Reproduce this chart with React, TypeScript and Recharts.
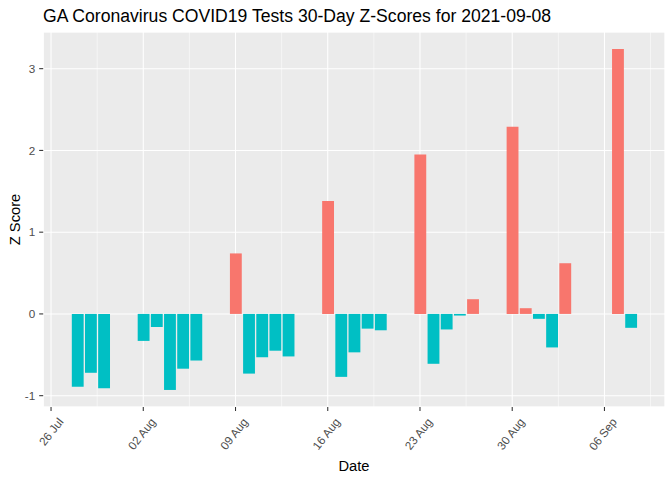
import { BarChart, Bar, XAxis, YAxis, CartesianGrid, Cell } from 'recharts';

// GA COVID19 tests, 30-day z-scores, report date 2021-09-08
const dates = [
  '2021-07-28', '2021-07-29', '2021-07-30',
  '2021-08-02', '2021-08-03', '2021-08-04', '2021-08-05', '2021-08-06',
  '2021-08-09', '2021-08-10', '2021-08-11', '2021-08-12', '2021-08-13',
  '2021-08-16', '2021-08-17', '2021-08-18', '2021-08-19', '2021-08-20',
  '2021-08-23', '2021-08-24', '2021-08-25', '2021-08-26', '2021-08-27',
  '2021-08-30', '2021-08-31', '2021-09-01', '2021-09-02', '2021-09-03',
  '2021-09-07', '2021-09-08',
];
const zScores = [
  -0.89, -0.72, -0.91,
  -0.33, -0.16, -0.93, -0.67, -0.57,
  0.74, -0.73, -0.53, -0.45, -0.52,
  1.38, -0.77, -0.47, -0.18, -0.2,
  1.95, -0.61, -0.19, -0.02, 0.18,
  2.29, 0.07, -0.06, -0.41, 0.62,
  3.24, -0.17,
];

// x values are days since 26 Jul 2021
const xTicks = [0, 7, 14, 21, 28, 35, 42];
const xTickLabels = ['26 Jul', '02 Aug', '09 Aug', '16 Aug', '23 Aug', '30 Aug', '06 Sep'];
const xMinor = [3.5, 10.5, 17.5, 24.5, 31.5, 38.5, 45.5];
const yTicks = [-1, 0, 1, 2, 3];
const yMinor = [-0.5, 0.5, 1.5, 2.5];

const X_DOMAIN = [-0.595, 46.595];
const Y_DOMAIN = [-1.1385, 3.4485];

const POS = '#F8766D';
const NEG = '#00BFC4';
const FONT = '"Liberation Sans", Arial, sans-serif';

const origin = Date.UTC(2021, 6, 26);
const dayOf = (d: string) => (Date.parse(d + 'T00:00:00Z') - origin) / 86400000;
const data = dates.map((d, i) => ({ day: dayOf(d), z: zScores[i] }));

function DateTick({ x, y, payload }: any) {
  const label = xTickLabels[xTicks.indexOf(payload.value)];
  return (
    <g transform={`translate(${x + 13},${y + 9})`}>
      <text transform="rotate(-52)" textAnchor="end" fill="#4D4D4D" fontSize={11.7} fontFamily={FONT}>
        {label}
      </text>
    </g>
  );
}

export default function App() {
  return (
    <div style={{ position: 'absolute', left: 0, top: 0, width: 672, height: 480, background: '#fff' }}>
      <BarChart
        width={672}
        height={480}
        data={data}
        margin={{ top: 32, right: 7, bottom: 0, left: 0 }}
      >
        {/* minor grid from hidden axes */}
        <CartesianGrid fill="#EBEBEB" stroke="#fff" strokeWidth={0.53} xAxisId="minor" yAxisId="minor" />
        <CartesianGrid stroke="#fff" strokeWidth={1.07} />
        <XAxis xAxisId="minor" dataKey="day" type="number" domain={X_DOMAIN} ticks={xMinor} hide />
        <YAxis yAxisId="minor" type="number" domain={Y_DOMAIN} ticks={yMinor} hide />
        <XAxis
          dataKey="day"
          type="number"
          domain={X_DOMAIN}
          ticks={xTicks}
          interval={0}
          height={73}
          axisLine={false}
          tickSize={4}
          tickMargin={2}
          tickLine={{ stroke: '#333333', strokeWidth: 1.07 }}
          tick={<DateTick />}
        />
        <YAxis
          type="number"
          domain={Y_DOMAIN}
          ticks={yTicks}
          interval={0}
          width={43.2}
          axisLine={false}
          tickSize={4}
          tickMargin={4}
          tickLine={{ stroke: '#333333', strokeWidth: 1.07 }}
          tick={{ fill: '#4D4D4D', fontSize: 11.7, fontFamily: FONT }}
        />
        <Bar dataKey="z" barSize={11.85} isAnimationActive={false}>
          {data.map((d, i) => (
            <Cell key={i} fill={d.z > 0 ? POS : NEG} />
          ))}
        </Bar>
      </BarChart>
      <svg
        width={672}
        height={480}
        style={{ position: 'absolute', left: 0, top: 0, pointerEvents: 'none' }}
        fontFamily={FONT}
      >
        <text x={43} y={22} fontSize={17.6} fill="#000">
          GA Coronavirus COVID19 Tests 30-Day Z-Scores for 2021-09-08
        </text>
        <text x={20} y={219.5} fontSize={14.7} fill="#000" textAnchor="middle" transform="rotate(-90 20 219.5)">
          Z Score
        </text>
        <text x={354} y={470.5} fontSize={14.7} fill="#000" textAnchor="middle">
          Date
        </text>
      </svg>
    </div>
  );
}
